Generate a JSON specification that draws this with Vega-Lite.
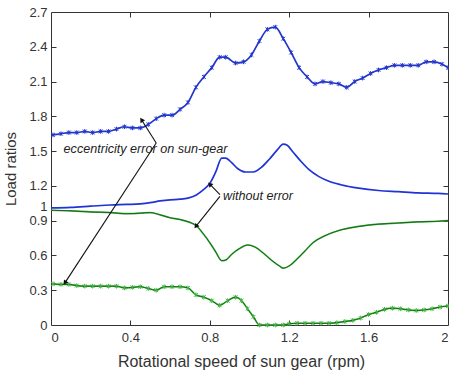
{
  "$schema": "https://vega.github.io/schema/vega-lite/v6.json",
  "width": 397,
  "height": 313,
  "autosize": {"type": "none"},
  "padding": {"left": 51, "top": 12, "right": 1, "bottom": 56},
  "background": "white",
  "config": {
    "view": {"stroke": "#333333", "strokeWidth": 1},
    "font": "Liberation Sans",
    "axis": {"labelFont": "Liberation Sans", "titleFont": "Liberation Sans", "labelColor": "#333333", "titleColor": "#333333", "titleFontWeight": "normal", "grid": false, "domain": false, "tickColor": "#333333", "labelOverlap": false}
  },
  "datasets": {
    "curves": [
      {"series": "S1", "x": 0.01, "y": 1.64}, {"series": "S1", "x": 0.05, "y": 1.65}, {"series": "S1", "x": 0.09, "y": 1.66}, {"series": "S1", "x": 0.13, "y": 1.66}, {"series": "S1", "x": 0.17, "y": 1.67}, {"series": "S1", "x": 0.21, "y": 1.66}, {"series": "S1", "x": 0.25, "y": 1.67}, {"series": "S1", "x": 0.29, "y": 1.67}, {"series": "S1", "x": 0.33, "y": 1.69}, {"series": "S1", "x": 0.37, "y": 1.71}, {"series": "S1", "x": 0.41, "y": 1.7}, {"series": "S1", "x": 0.45, "y": 1.7}, {"series": "S1", "x": 0.49, "y": 1.73}, {"series": "S1", "x": 0.53, "y": 1.78}, {"series": "S1", "x": 0.57, "y": 1.81}, {"series": "S1", "x": 0.61, "y": 1.81}, {"series": "S1", "x": 0.65, "y": 1.86}, {"series": "S1", "x": 0.69, "y": 1.92}, {"series": "S1", "x": 0.73, "y": 2.05}, {"series": "S1", "x": 0.77, "y": 2.14}, {"series": "S1", "x": 0.81, "y": 2.22}, {"series": "S1", "x": 0.85, "y": 2.31}, {"series": "S1", "x": 0.88, "y": 2.31}, {"series": "S1", "x": 0.93, "y": 2.26}, {"series": "S1", "x": 0.97, "y": 2.27}, {"series": "S1", "x": 1.01, "y": 2.33}, {"series": "S1", "x": 1.05, "y": 2.45}, {"series": "S1", "x": 1.09, "y": 2.55}, {"series": "S1", "x": 1.13, "y": 2.57}, {"series": "S1", "x": 1.17, "y": 2.47}, {"series": "S1", "x": 1.21, "y": 2.35}, {"series": "S1", "x": 1.25, "y": 2.22}, {"series": "S1", "x": 1.29, "y": 2.14}, {"series": "S1", "x": 1.33, "y": 2.08}, {"series": "S1", "x": 1.37, "y": 2.1}, {"series": "S1", "x": 1.41, "y": 2.09}, {"series": "S1", "x": 1.45, "y": 2.08}, {"series": "S1", "x": 1.49, "y": 2.05}, {"series": "S1", "x": 1.53, "y": 2.1}, {"series": "S1", "x": 1.57, "y": 2.13}, {"series": "S1", "x": 1.61, "y": 2.17}, {"series": "S1", "x": 1.65, "y": 2.2}, {"series": "S1", "x": 1.69, "y": 2.22}, {"series": "S1", "x": 1.73, "y": 2.24}, {"series": "S1", "x": 1.77, "y": 2.24}, {"series": "S1", "x": 1.81, "y": 2.24}, {"series": "S1", "x": 1.85, "y": 2.24}, {"series": "S1", "x": 1.89, "y": 2.27}, {"series": "S1", "x": 1.93, "y": 2.27}, {"series": "S1", "x": 1.97, "y": 2.25}, {"series": "S1", "x": 2.0, "y": 2.22},

      {"series": "S2", "x": 0.0, "y": 1.01}, {"series": "S2", "x": 0.1, "y": 1.015}, {"series": "S2", "x": 0.2, "y": 1.025}, {"series": "S2", "x": 0.3, "y": 1.035}, {"series": "S2", "x": 0.38, "y": 1.04}, {"series": "S2", "x": 0.45, "y": 1.045}, {"series": "S2", "x": 0.5, "y": 1.055}, {"series": "S2", "x": 0.55, "y": 1.07}, {"series": "S2", "x": 0.6, "y": 1.08}, {"series": "S2", "x": 0.65, "y": 1.085}, {"series": "S2", "x": 0.69, "y": 1.095}, {"series": "S2", "x": 0.73, "y": 1.12}, {"series": "S2", "x": 0.77, "y": 1.17}, {"series": "S2", "x": 0.8, "y": 1.22}, {"series": "S2", "x": 0.83, "y": 1.32}, {"series": "S2", "x": 0.86, "y": 1.44}, {"series": "S2", "x": 0.88, "y": 1.44}, {"series": "S2", "x": 0.91, "y": 1.4}, {"series": "S2", "x": 0.94, "y": 1.35}, {"series": "S2", "x": 0.98, "y": 1.32}, {"series": "S2", "x": 1.02, "y": 1.32}, {"series": "S2", "x": 1.06, "y": 1.36}, {"series": "S2", "x": 1.1, "y": 1.43}, {"series": "S2", "x": 1.14, "y": 1.51}, {"series": "S2", "x": 1.17, "y": 1.56}, {"series": "S2", "x": 1.19, "y": 1.55}, {"series": "S2", "x": 1.22, "y": 1.49}, {"series": "S2", "x": 1.26, "y": 1.41}, {"series": "S2", "x": 1.3, "y": 1.34}, {"series": "S2", "x": 1.35, "y": 1.28}, {"series": "S2", "x": 1.4, "y": 1.24}, {"series": "S2", "x": 1.46, "y": 1.21}, {"series": "S2", "x": 1.55, "y": 1.18}, {"series": "S2", "x": 1.65, "y": 1.16}, {"series": "S2", "x": 1.75, "y": 1.15}, {"series": "S2", "x": 1.85, "y": 1.14}, {"series": "S2", "x": 1.95, "y": 1.135}, {"series": "S2", "x": 2.0, "y": 1.13},

      {"series": "S3", "x": 0.0, "y": 0.99}, {"series": "S3", "x": 0.1, "y": 0.985}, {"series": "S3", "x": 0.2, "y": 0.975}, {"series": "S3", "x": 0.3, "y": 0.97}, {"series": "S3", "x": 0.38, "y": 0.96}, {"series": "S3", "x": 0.45, "y": 0.965}, {"series": "S3", "x": 0.5, "y": 0.97}, {"series": "S3", "x": 0.55, "y": 0.95}, {"series": "S3", "x": 0.6, "y": 0.925}, {"series": "S3", "x": 0.65, "y": 0.91}, {"series": "S3", "x": 0.7, "y": 0.885}, {"series": "S3", "x": 0.73, "y": 0.86}, {"series": "S3", "x": 0.77, "y": 0.78}, {"series": "S3", "x": 0.8, "y": 0.71}, {"series": "S3", "x": 0.83, "y": 0.63}, {"series": "S3", "x": 0.86, "y": 0.555}, {"series": "S3", "x": 0.88, "y": 0.56}, {"series": "S3", "x": 0.91, "y": 0.61}, {"series": "S3", "x": 0.95, "y": 0.66}, {"series": "S3", "x": 0.99, "y": 0.69}, {"series": "S3", "x": 1.03, "y": 0.67}, {"series": "S3", "x": 1.07, "y": 0.62}, {"series": "S3", "x": 1.11, "y": 0.56}, {"series": "S3", "x": 1.15, "y": 0.51}, {"series": "S3", "x": 1.17, "y": 0.49}, {"series": "S3", "x": 1.2, "y": 0.51}, {"series": "S3", "x": 1.24, "y": 0.57}, {"series": "S3", "x": 1.28, "y": 0.64}, {"series": "S3", "x": 1.32, "y": 0.71}, {"series": "S3", "x": 1.38, "y": 0.77}, {"series": "S3", "x": 1.45, "y": 0.815}, {"series": "S3", "x": 1.55, "y": 0.85}, {"series": "S3", "x": 1.65, "y": 0.87}, {"series": "S3", "x": 1.75, "y": 0.88}, {"series": "S3", "x": 1.85, "y": 0.89}, {"series": "S3", "x": 1.95, "y": 0.895}, {"series": "S3", "x": 2.0, "y": 0.9},

      {"series": "S4", "x": 0.01, "y": 0.355}, {"series": "S4", "x": 0.05, "y": 0.35}, {"series": "S4", "x": 0.09, "y": 0.35}, {"series": "S4", "x": 0.13, "y": 0.34}, {"series": "S4", "x": 0.17, "y": 0.335}, {"series": "S4", "x": 0.21, "y": 0.335}, {"series": "S4", "x": 0.25, "y": 0.335}, {"series": "S4", "x": 0.29, "y": 0.335}, {"series": "S4", "x": 0.33, "y": 0.335}, {"series": "S4", "x": 0.37, "y": 0.32}, {"series": "S4", "x": 0.41, "y": 0.325}, {"series": "S4", "x": 0.45, "y": 0.33}, {"series": "S4", "x": 0.49, "y": 0.315}, {"series": "S4", "x": 0.53, "y": 0.3}, {"series": "S4", "x": 0.57, "y": 0.33}, {"series": "S4", "x": 0.61, "y": 0.33}, {"series": "S4", "x": 0.65, "y": 0.33}, {"series": "S4", "x": 0.69, "y": 0.32}, {"series": "S4", "x": 0.73, "y": 0.26}, {"series": "S4", "x": 0.77, "y": 0.24}, {"series": "S4", "x": 0.81, "y": 0.21}, {"series": "S4", "x": 0.85, "y": 0.17}, {"series": "S4", "x": 0.89, "y": 0.21}, {"series": "S4", "x": 0.93, "y": 0.24}, {"series": "S4", "x": 0.96, "y": 0.21}, {"series": "S4", "x": 0.99, "y": 0.14}, {"series": "S4", "x": 1.02, "y": 0.07}, {"series": "S4", "x": 1.05, "y": 0.0}, {"series": "S4", "x": 1.09, "y": 0.0}, {"series": "S4", "x": 1.13, "y": 0.0}, {"series": "S4", "x": 1.17, "y": 0.0}, {"series": "S4", "x": 1.2, "y": 0.01}, {"series": "S4", "x": 1.24, "y": 0.015}, {"series": "S4", "x": 1.28, "y": 0.015}, {"series": "S4", "x": 1.32, "y": 0.015}, {"series": "S4", "x": 1.36, "y": 0.015}, {"series": "S4", "x": 1.4, "y": 0.015}, {"series": "S4", "x": 1.44, "y": 0.02}, {"series": "S4", "x": 1.48, "y": 0.03}, {"series": "S4", "x": 1.52, "y": 0.04}, {"series": "S4", "x": 1.56, "y": 0.06}, {"series": "S4", "x": 1.6, "y": 0.09}, {"series": "S4", "x": 1.64, "y": 0.11}, {"series": "S4", "x": 1.68, "y": 0.135}, {"series": "S4", "x": 1.72, "y": 0.145}, {"series": "S4", "x": 1.76, "y": 0.14}, {"series": "S4", "x": 1.8, "y": 0.13}, {"series": "S4", "x": 1.84, "y": 0.125}, {"series": "S4", "x": 1.88, "y": 0.13}, {"series": "S4", "x": 1.92, "y": 0.14}, {"series": "S4", "x": 1.96, "y": 0.155}, {"series": "S4", "x": 2.0, "y": 0.165}
    ],
    "arrows": [
      {"id": 1, "x": 0.53, "y": 1.57, "x2": 0.456, "y2": 1.77},
      {"id": 2, "x": 0.53, "y": 1.57, "x2": 0.07, "y2": 0.363},
      {"id": 3, "x": 0.851, "y": 1.125, "x2": 0.8, "y2": 1.215},
      {"id": 4, "x": 0.851, "y": 1.11, "x2": 0.73, "y2": 0.85}
    ],
    "notes": [
      {"text": "eccentricity error on sun-gear", "x": 0.476, "y": 1.514},
      {"text": "without error", "x": 1.043, "y": 1.116}
    ]
  },
  "resolve": {"axis": {"x": "independent", "y": "independent"}},
  "layer": [
    {
      "data": {"name": "curves"},
      "mark": {"type": "point", "opacity": 0},
      "encoding": {
        "x": {"field": "x", "type": "quantitative", "scale": {"domain": [0, 2], "nice": false, "zero": false},
          "axis": {"orient": "top", "values": [0.4, 0.8, 1.2, 1.6], "labels": false, "tickSize": 5, "offset": -5, "title": null}},
        "y": {"field": "y", "type": "quantitative", "scale": {"domain": [0, 2.7], "nice": false, "zero": false},
          "axis": {"orient": "right", "values": [0.3, 0.6, 0.9, 1.2, 1.5, 1.8, 2.1, 2.4], "labels": false, "tickSize": 5, "offset": -5, "title": null}}
      }
    },
    {
      "data": {"name": "curves"},
      "mark": {"type": "point", "opacity": 0},
      "encoding": {
        "x": {"field": "x", "type": "quantitative",
          "axis": {"orient": "bottom", "values": [0.4, 0.8, 1.2, 1.6], "labels": false, "tickSize": 5, "offset": -5, "title": null}},
        "y": {"field": "y", "type": "quantitative",
          "axis": {"orient": "left", "values": [0.3, 0.6, 0.9, 1.2, 1.5, 1.8, 2.1, 2.4], "labels": false, "tickSize": 5, "offset": -5, "title": null}}
      }
    },
    {
      "mark": {"type": "rule", "strokeDash": [4, 3], "color": "#000000", "strokeWidth": 1},
      "encoding": {
        "x": {"datum": 0, "type": "quantitative", "axis": null},
        "x2": {"datum": 1.94},
        "y": {"datum": 1, "type": "quantitative", "axis": null}
      }
    },
    {
      "data": {"name": "curves"},
      "mark": {"type": "line", "strokeWidth": 1.7, "interpolate": "monotone"},
      "encoding": {
        "x": {"field": "x", "type": "quantitative",
          "axis": {"orient": "bottom", "values": [0, 0.4, 0.8, 1.2, 1.6, 2], "format": "~g", "ticks": false, "labelPadding": 6, "labelFontSize": 13,
            "title": "Rotational speed of sun gear (rpm)", "titleFontSize": 16, "titlePadding": 9, "titleX": 190}},
        "y": {"field": "y", "type": "quantitative",
          "axis": {"orient": "left", "values": [0, 0.3, 0.6, 0.9, 1, 1.2, 1.5, 1.8, 2.1, 2.4, 2.7], "format": "~g", "ticks": false, "labelPadding": 4, "labelFontSize": 13,
            "labelOffset": {"condition": {"test": "datum.value == 1", "value": -3}, "value": 0},
            "title": "Load ratios", "titleFontSize": 15, "titlePadding": 10}},
        "detail": {"field": "series"},
        "color": {"field": "series", "type": "nominal", "scale": {"domain": ["S1", "S2", "S3", "S4"], "range": ["#2236cc", "#1f33d6", "#3cb83c", "#3cb83c"]}, "legend": null}
      }
    },
    {
      "data": {"name": "curves"},
      "transform": [{"filter": "datum.series == 'S3' || datum.series == 'S4'"}],
      "mark": {"type": "line", "strokeWidth": 0.8, "interpolate": "monotone", "color": "#184a18"},
      "encoding": {
        "x": {"field": "x", "type": "quantitative", "axis": null},
        "y": {"field": "y", "type": "quantitative", "axis": null},
        "detail": {"field": "series"}
      }
    },
    {
      "data": {"name": "curves"},
      "transform": [{"filter": "datum.series == 'S1' || datum.series == 'S4'"}],
      "mark": {"type": "point", "filled": false, "strokeWidth": 1, "size": 22, "opacity": 1,
        "shape": "M-0.8,-0.8L0.8,0.8M-0.8,0.8L0.8,-0.8M0,-1L0,1"},
      "encoding": {
        "x": {"field": "x", "type": "quantitative", "axis": null},
        "y": {"field": "y", "type": "quantitative", "axis": null},
        "color": {"field": "series", "type": "nominal", "scale": {"domain": ["S1", "S2", "S3", "S4"], "range": ["#2236cc", "#1f33d6", "#3cb83c", "#1d5a1d"]}, "legend": null}
      }
    },
    {
      "data": {"name": "arrows"},
      "mark": {"type": "rule", "color": "#111111", "strokeWidth": 1.1},
      "encoding": {
        "x": {"field": "x", "type": "quantitative", "axis": null},
        "y": {"field": "y", "type": "quantitative", "axis": null},
        "x2": {"field": "x2"},
        "y2": {"field": "y2"}
      }
    },
    {
      "data": {"name": "arrows"},
      "transform": [{"filter": "datum.id == 1"}],
      "mark": {"type": "point", "shape": "triangle-up", "filled": true, "color": "#111111", "size": 30, "opacity": 1, "angle": 327},
      "encoding": {"x": {"field": "x2", "type": "quantitative", "axis": null}, "y": {"field": "y2", "type": "quantitative", "axis": null}}
    },
    {
      "data": {"name": "arrows"},
      "transform": [{"filter": "datum.id == 2"}],
      "mark": {"type": "point", "shape": "triangle-up", "filled": true, "color": "#111111", "size": 30, "opacity": 1, "angle": 215},
      "encoding": {"x": {"field": "x2", "type": "quantitative", "axis": null}, "y": {"field": "y2", "type": "quantitative", "axis": null}}
    },
    {
      "data": {"name": "arrows"},
      "transform": [{"filter": "datum.id == 3"}],
      "mark": {"type": "point", "shape": "triangle-up", "filled": true, "color": "#111111", "size": 30, "opacity": 1, "angle": 315},
      "encoding": {"x": {"field": "x2", "type": "quantitative", "axis": null}, "y": {"field": "y2", "type": "quantitative", "axis": null}}
    },
    {
      "data": {"name": "arrows"},
      "transform": [{"filter": "datum.id == 4"}],
      "mark": {"type": "point", "shape": "triangle-up", "filled": true, "color": "#111111", "size": 30, "opacity": 1, "angle": 219},
      "encoding": {"x": {"field": "x2", "type": "quantitative", "axis": null}, "y": {"field": "y2", "type": "quantitative", "axis": null}}
    },
    {
      "data": {"name": "notes"},
      "mark": {"type": "text", "font": "Liberation Sans", "fontStyle": "italic", "fontSize": 12.6, "color": "#222222", "align": "center", "baseline": "middle"},
      "encoding": {
        "x": {"field": "x", "type": "quantitative", "axis": null},
        "y": {"field": "y", "type": "quantitative", "axis": null},
        "text": {"field": "text"}
      }
    },
    {
      "mark": {"type": "text", "text": "x 10", "font": "Liberation Sans", "fontSize": 14, "color": "#333333", "align": "right", "baseline": "middle"},
      "encoding": {"x": {"datum": 1.975, "type": "quantitative", "axis": null}, "y": {"datum": -0.39, "type": "quantitative", "axis": null}}
    },
    {
      "mark": {"type": "text", "text": "4", "font": "Liberation Sans", "fontSize": 9.5, "color": "#333333", "align": "left", "baseline": "middle"},
      "encoding": {"x": {"datum": 1.978, "type": "quantitative", "axis": null}, "y": {"datum": -0.32, "type": "quantitative", "axis": null}}
    }
  ]
}
